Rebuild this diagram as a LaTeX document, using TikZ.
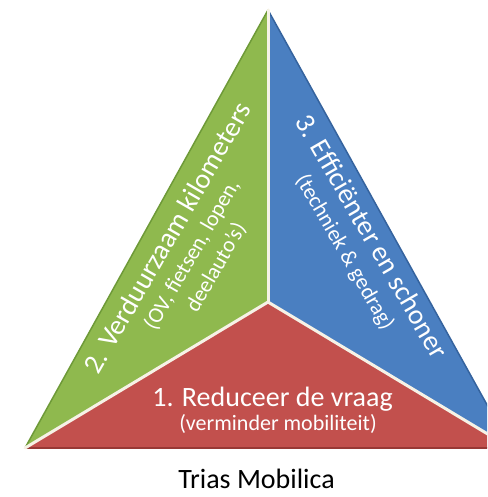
\documentclass[tikz,border=0pt]{standalone}
\usepackage{fontspec}
\setmainfont{Carlito}
\definecolor{grn}{HTML}{8FB94E}
\definecolor{grndark}{HTML}{6E9A38}
\definecolor{blu}{HTML}{4A7FC1}
\definecolor{bludark}{HTML}{35639E}
\definecolor{rd}{HTML}{C2504D}
\definecolor{rddark}{HTML}{983835}
\definecolor{sepcol}{HTML}{F6F2E6}
\tikzset{
  sep/.style={sepcol, line width=3pt, line cap=round},
  bigtxt/.style={text=white, inner sep=0pt, anchor=base, font=\fontsize{28}{32}\selectfont},
  smalltxt/.style={text=white, inner sep=0pt, anchor=base, font=\fontsize{22}{26}\selectfont},
}
\begin{document}
\begin{tikzpicture}[x=1pt,y=-1pt]
\useasboundingbox (0,0) rectangle (487,497);
\clip (0,0) rectangle (487,497);
\coordinate (A) at (268,10);
\coordinate (L) at (25,448);
\coordinate (R) at (511,448);
\coordinate (C) at (268,302);
\fill[grn] (A) -- (L) -- (C) -- cycle;
\fill[blu] (A) -- (C) -- (R) -- cycle;
\fill[rd] (L) -- (R) -- (C) -- cycle;
\draw[grndark, line width=1.5pt] (A) -- (L);
\draw[bludark, line width=1.5pt] (A) -- (R);
\draw[rddark, line width=2.5pt] (L) -- (R);
\draw[sep] (C) -- (A);
\draw[sep] (C) -- (L);
\draw[sep] (C) -- (R);
% green texts
\node[bigtxt, rotate=60] (g1) at (175.6,242.5) {2. Verduurzaam kilometers};
\node[smalltxt, rotate=60] (g2) at (197.8,257.8) {(OV, fietsen, lopen,};
\node[smalltxt, rotate=60] (g3) at (221.8,270.8) {deelauto's)};
% blue texts
\node[bigtxt, rotate=-60] (b1) at (363.9,241) {3. Efficiënter en schoner};
\node[smalltxt, rotate=-60] (b2) at (339.2,255.3) {(techniek \& gedrag)};
% red texts
\node[bigtxt] (r1) at (272.5,406) {1. Reduceer de vraag};
\node[smalltxt] (r2) at (278,430) {(verminder mobiliteit)};
% title
\node[inner sep=0pt, anchor=base, font=\fontsize{28}{32}\selectfont] (title) at (256.5,488) {Trias Mobilica};
\end{tikzpicture}
\end{document}
